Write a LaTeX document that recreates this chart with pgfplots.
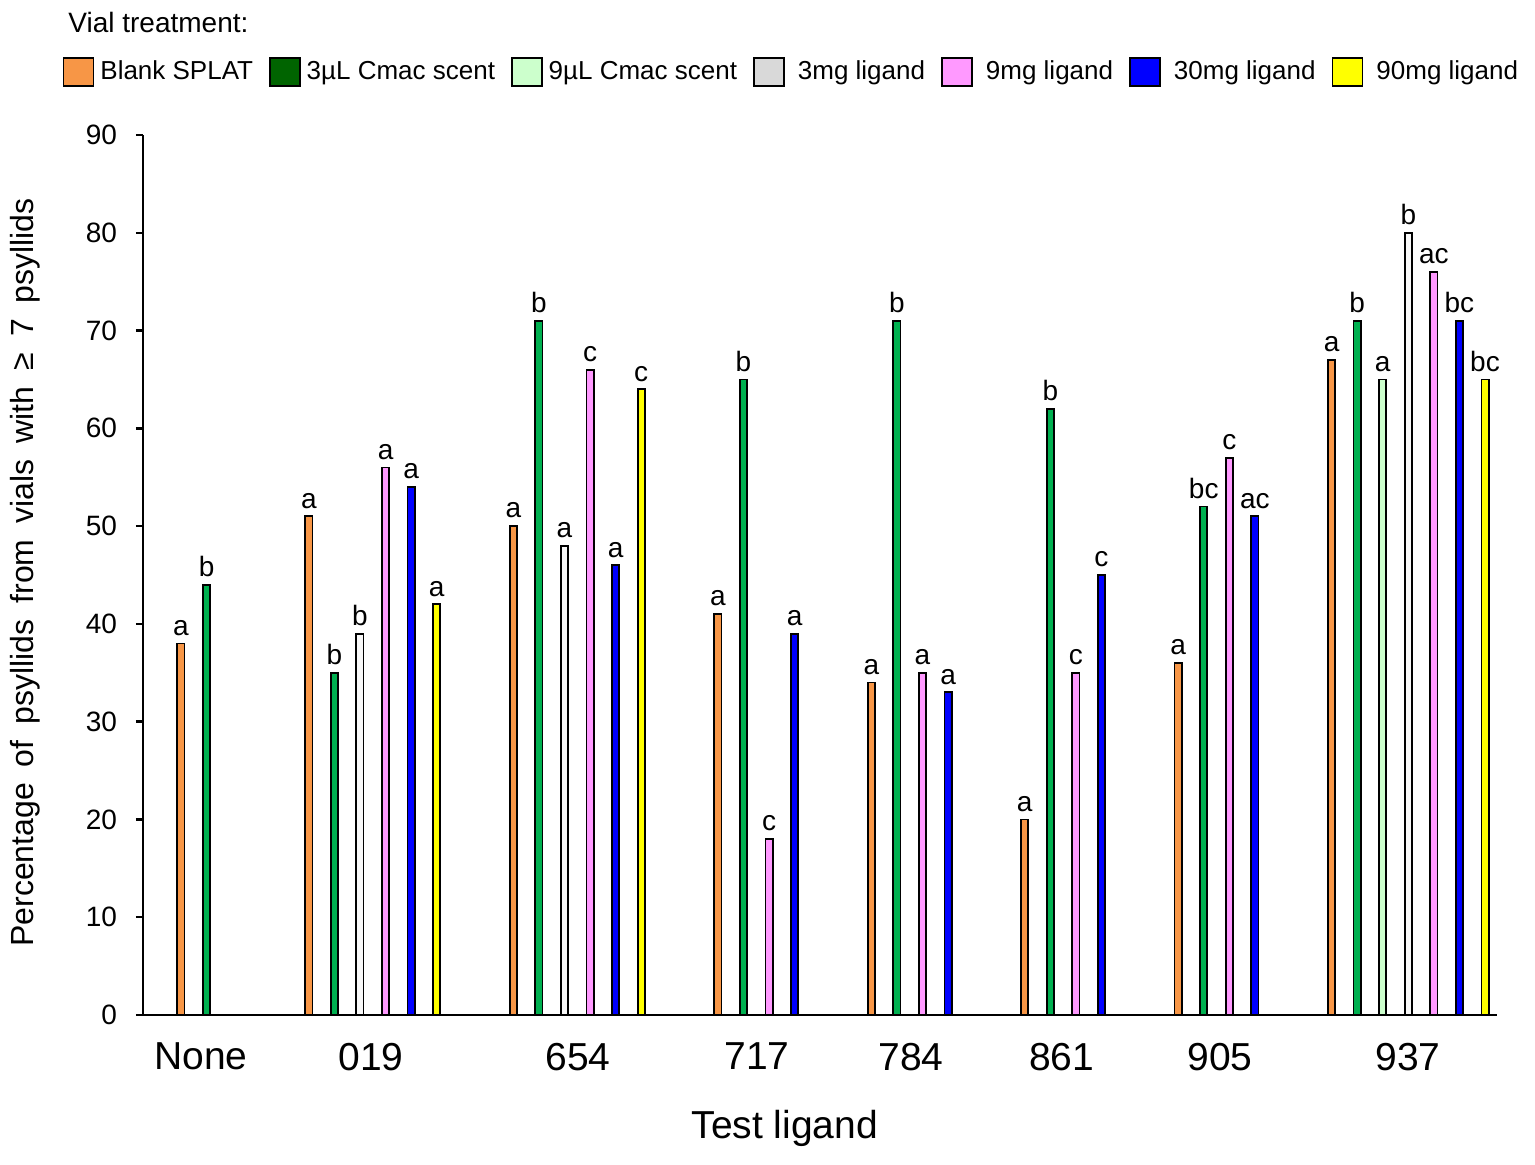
\documentclass[border=0pt]{standalone}
\usepackage{fontspec}
\setmainfont{Liberation Sans}
\usepackage{pgfplots}
\pgfplotsset{compat=1.18}
\usepackage{pgfplotstable}

\definecolor{corange}{HTML}{F79646}
\definecolor{cgreen}{HTML}{00B050}
\definecolor{cdkgreen}{HTML}{006400}
\definecolor{cltgreen}{HTML}{CCFFCC}
\definecolor{cgreyleg}{HTML}{D9D9D9}
\definecolor{cwhite}{HTML}{F8F8F8}
\definecolor{cpink}{HTML}{FF99FF}
\definecolor{cblue}{HTML}{0000FF}
\definecolor{cyellow}{HTML}{FFFF00}

\pgfplotstableread{
x y lab
0 38 a
5 51 a
13 50 a
21 41 a
27 34 a
33 20 a
39 36 a
45 67 a
}\dorange
\pgfplotstableread{
x y lab
1 44 b
6 35 b
14 71 b
22 65 b
28 71 b
34 62 b
40 52 bc
46 71 b
}\dgreen
\pgfplotstableread{
x y lab
47 65 a
}\dltgreen
\pgfplotstableread{
x y lab
7 39 b
15 48 a
48 80 b
}\dthree
\pgfplotstableread{
x y lab
8 56 a
16 66 c
23 18 c
29 35 a
35 35 c
41 57 c
49 76 ac
}\dnine
\pgfplotstableread{
x y lab
9 54 a
17 46 a
24 39 a
30 33 a
36 45 c
42 51 ac
50 71 bc
}\dthirty
\pgfplotstableread{
x y lab
10 42 a
18 64 c
51 65 bc
}\dninety

\begin{document}
\begin{tikzpicture}
\useasboundingbox (0,0) rectangle (767.5pt,582pt);
\node[anchor=west, inner sep=0pt, font=\fontsize{14}{16}\selectfont] at (34pt,571pt) {Vial treatment:};
\begin{axis}[
  at={(71.5pt,74.5pt)}, anchor=south west,
  scale only axis, width=677pt, height=440pt,
  xmin=-1.486, xmax=51.47, ymin=0, ymax=90,
  axis lines=left,
  axis line style={line width=1.2pt, -},
  ytick={0,10,...,90},
  y tick label style={font=\fontsize{14}{16}\selectfont, /pgf/number format/assume math mode=true, xshift=-6pt},
  ytick style={line width=1.2pt, black},
  tick align=outside,
  major tick length=3.5pt,
  xtick={0.78,7.43,15.53,22.53,28.55,34.45,40.63,47.99},
  xticklabels={None,019,654,717,784,861,905,937},
  x tick style={draw=none},
  x tick label style={font=\fontsize{19.5}{22}\selectfont, yshift=-7pt},
  xlabel={Test ligand},
  every axis x label/.style={at={(axis description cs:0.474,-0.1284)}, anchor=center, font=\fontsize{19.5}{22}\selectfont},
  ylabel={\spaceskip=0.5em Percentage of psyllids from vials with ≥ 7 psyllids},
  every axis y label/.style={at={(axis description cs:-0.0871,0.503)}, anchor=center, rotate=90, font=\fontsize{16}{18}\selectfont},
  legend columns=7,
  legend style={draw=none, fill=none, at={(0.4804,1.0716)}, anchor=center,
    font=\fontsize{13}{15}\selectfont,
    /tikz/every even column/.append style={column sep=5pt},
    nodes={inner xsep=3pt}},
  legend image code/.code={\draw[#1, line width=0.8pt] (0pt,-7pt) rectangle (15pt,7pt);},
  clip=false,
]
\addlegendimage{fill=corange, draw=black}
\addlegendentry{Blank SPLAT}
\addlegendimage{fill=cdkgreen, draw=black}
\addlegendentry{3µL Cmac scent}
\addlegendimage{fill=cltgreen, draw=black}
\addlegendentry{9µL Cmac scent}
\addlegendimage{fill=cgreyleg, draw=black}
\addlegendentry{\ 3mg ligand}
\addlegendimage{fill=cpink, draw=black}
\addlegendentry{\ 9mg ligand}
\addlegendimage{fill=cblue, draw=black}
\addlegendentry{\ 30mg ligand}
\addlegendimage{fill=cyellow, draw=black}
\addlegendentry{\ 90mg ligand}

\pgfplotsset{mybar/.style={ybar, bar shift=0pt, bar width=3.6pt, draw=black, line width=0.9pt, fill=#1, forget plot,
  nodes near coords, point meta=explicit symbolic,
  every node near coord/.append style={font=\fontsize{14}{16}\selectfont, text=black, inner sep=3.5pt}}}

\addplot[mybar=corange] table[x=x, y=y, meta=lab] {\dorange};
\addplot[mybar=cgreen] table[x=x, y=y, meta=lab] {\dgreen};
\addplot[mybar=cltgreen] table[x=x, y=y, meta=lab] {\dltgreen};
\addplot[mybar=cwhite] table[x=x, y=y, meta=lab] {\dthree};
\addplot[mybar=cpink] table[x=x, y=y, meta=lab] {\dnine};
\addplot[mybar=cblue] table[x=x, y=y, meta=lab] {\dthirty};
\addplot[mybar=cyellow] table[x=x, y=y, meta=lab] {\dninety};
\end{axis}
\end{tikzpicture}
\end{document}
